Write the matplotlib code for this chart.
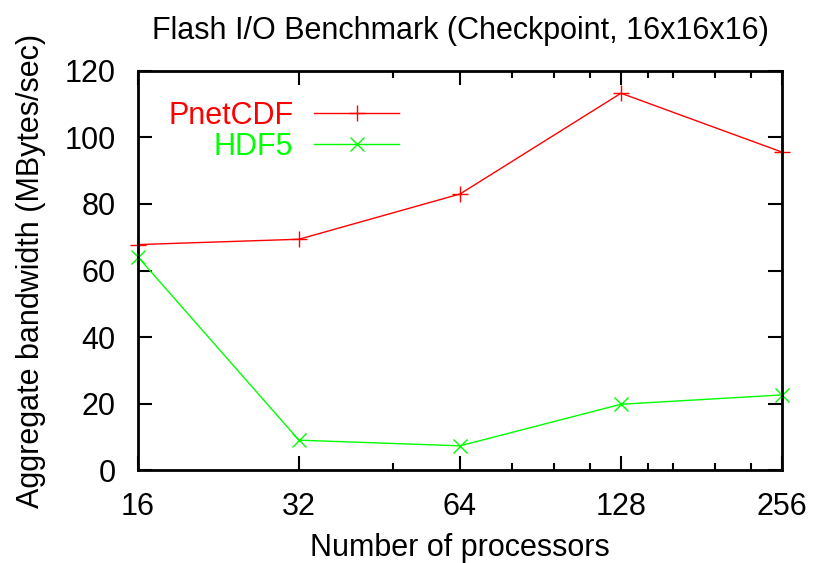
import matplotlib
matplotlib.use("Agg")
import matplotlib.pyplot as plt
from matplotlib.lines import Line2D
from matplotlib.ticker import FixedLocator, NullFormatter

procs = [16, 32, 64, 128, 256]
pnetcdf = [67.8, 69.4, 83.0, 113.3, 95.6]
hdf5 = [64.1, 9.0, 7.3, 19.8, 22.6]
minor_procs = [48, 80, 96, 112, 144, 160, 192, 224]
y_ticks = [0, 20, 40, 60, 80, 100, 120]

plt.rcParams["font.family"] = ["Liberation Sans", "DejaVu Sans"]
fs = 22
plt.rcParams["font.size"] = fs

fig = plt.figure(figsize=(8.21, 5.63), dpi=100)
ax = fig.add_axes([0.168, 0.165, 0.7845, 0.709])

red = "#ff0000"
green = "#00ff00"
ax.plot(procs, pnetcdf, color=red, lw=1.0, marker="+", ms=12, mew=1.0, clip_on=False)
ax.plot(procs, hdf5, color=green, lw=1.0, marker="x", ms=10, mew=1.0, clip_on=False)

ax.set_xscale("log", base=2)
ax.set_xlim(16, 256)
ax.set_ylim(0, 120)
ax.xaxis.set_major_locator(FixedLocator(procs))
ax.set_xticklabels([str(p) for p in procs])
ax.xaxis.set_minor_locator(FixedLocator(minor_procs))
ax.xaxis.set_minor_formatter(NullFormatter())
ax.set_yticks(y_ticks)
ax.yaxis.set_minor_locator(FixedLocator([]))

ax.tick_params(which="both", direction="in", top=True, right=True, width=1.5,
               labelsize=fs)
ax.tick_params(which="major", length=10)
ax.tick_params(which="minor", length=5)
ax.tick_params(axis="x", which="major", pad=16)
ax.tick_params(axis="y", which="major", pad=16)
for s in ax.spines.values():
    s.set_linewidth(2)

ax.set_title("Flash I/O Benchmark (Checkpoint, 16x16x16)", fontsize=fs, pad=23)
ax.set_xlabel("Number of processors", fontsize=fs, labelpad=8)
ax.set_ylabel("Aggregate bandwidth (MBytes/sec)", fontsize=fs, labelpad=13)

# gnuplot-style key: label right-aligned, sample line to its right
key = [("PnetCDF", red, "+", 12), ("HDF5", green, "x", 10)]
for i, (name, col, mk, ms) in enumerate(key):
    yk = 0.895 - i * 0.078
    ax.text(0.241, yk, name, color=col, ha="right", va="center_baseline",
            transform=ax.transAxes, fontsize=fs)
    ax.add_line(Line2D([0.273, 0.406], [yk, yk], color=col, lw=1.0,
                       transform=ax.transAxes))
    ax.add_line(Line2D([0.3395], [yk], color=col, marker=mk, ms=ms, mew=1.0,
                       transform=ax.transAxes))

fig.savefig("out.png", dpi=100)
